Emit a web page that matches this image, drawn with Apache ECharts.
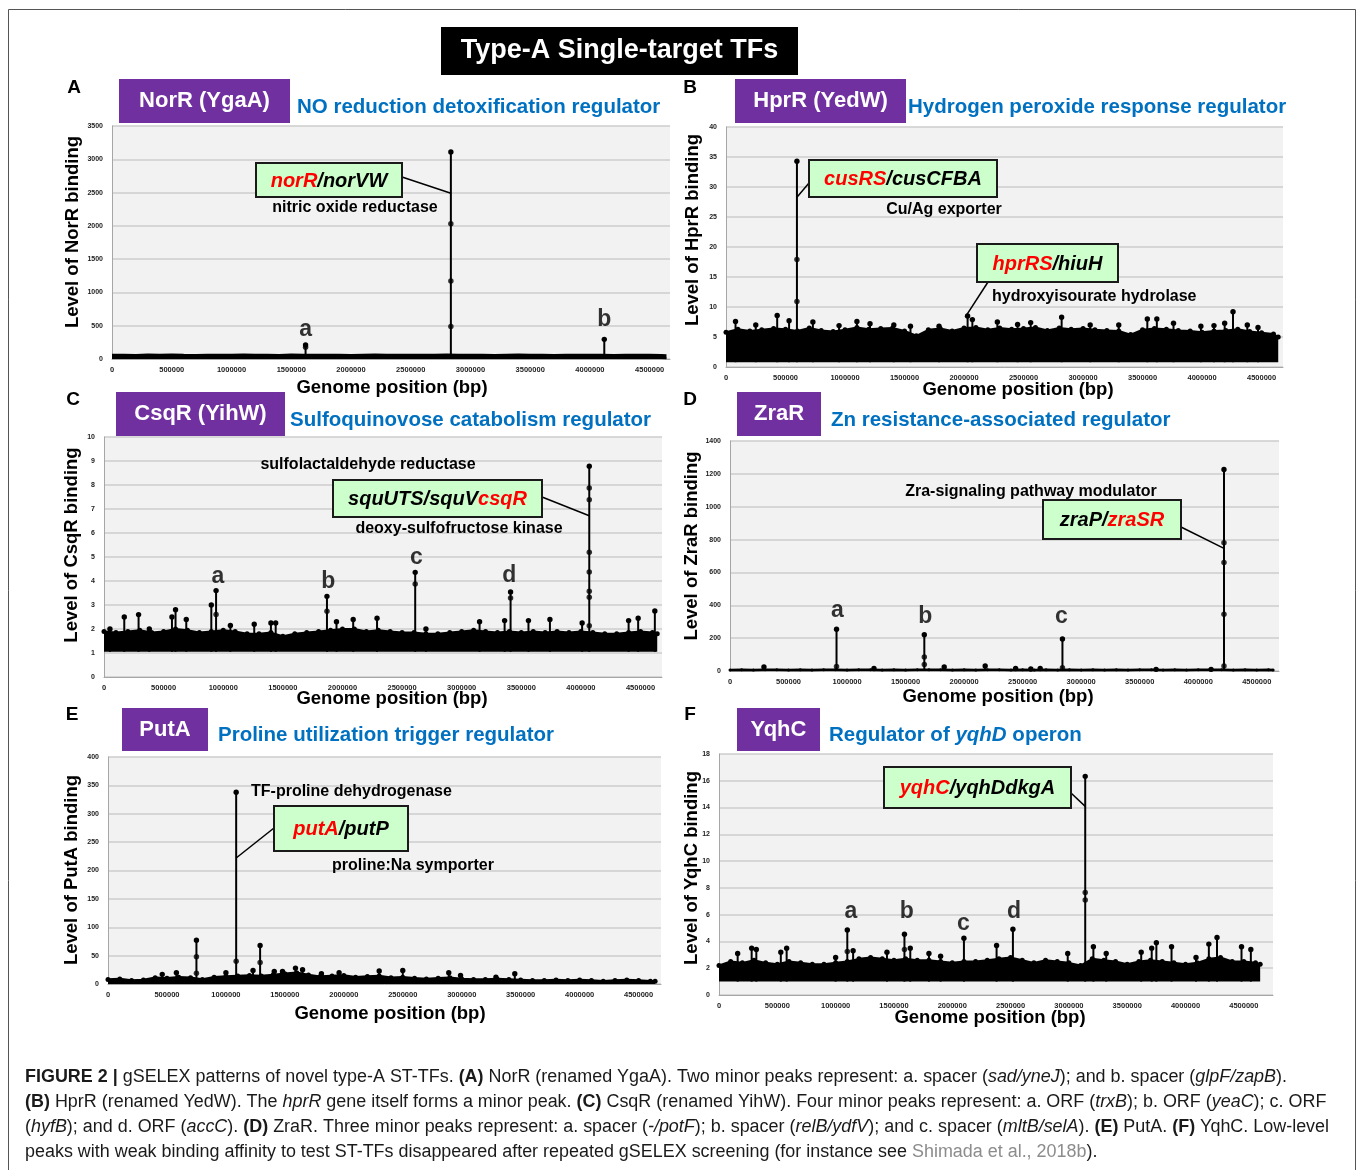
<!DOCTYPE html>
<html><head><meta charset="utf-8">
<script src="https://cdn.jsdelivr.net/npm/echarts@6/dist/echarts.min.js"></script>
<style>html,body{margin:0;padding:0;background:#fff}#c{width:1360px;height:1170px}</style>
</head><body><div id="c"></div>
<script>
// ================= DATA =================
// genome positions at which the background band's upper envelope was read
const ENV_X = [0,100000,200000,300000,400000,500000,600000,700000,800000,900000,
  1000000,1100000,1200000,1300000,1400000,1500000,1600000,1700000,1800000,1900000,
  2000000,2100000,2200000,2300000,2400000,2500000,2600000,2700000,2800000,2900000,
  3000000,3100000,3200000,3300000,3400000,3500000,3600000,3700000,3800000,3900000,
  4000000,4100000,4200000,4300000,4400000,4500000,4600000,4640000];
const X_TICKS = [0,500000,1000000,1500000,2000000,2500000,3000000,3500000,4000000,4500000];

// (A) NorR
const A_ENV = [40,42,38,45,40,44,41,39,43,40,42,45,41,40,38,44,42,40,43,41,39,42,44,40,41,43,40,42,45,41,40,43,39,42,44,40,41,38,42,40,43,41,39,42,40,41,38,35];
const A_SPIKE_X = [1620000, 2836000, 4120000];
const A_SPIKE_Y = [210, 3110, 295];
const A_DOT_X = [1620000, 2836000, 2836000, 2836000];
const A_DOT_Y = [175, 2030, 1170, 490];
const A_LET_X = [1620000, 4120000];
const A_LET_Y = [437, 588];
const A_LET_T = ['a', 'b'];

// (B) HprR
const B_ENV = [5.8,6.3,6.0,6.2,6.4,6.3,6.0,6.5,6.1,5.9,6.2,6.6,6.3,6.4,6.5,6.0,5.2,6.2,6.4,6.0,6.5,6.6,6.2,6.5,6.3,6.4,6.6,6.1,6.5,6.3,6.4,6.2,6.1,6.0,5.4,6.2,6.4,6.3,6.1,6.0,5.8,6.0,6.1,6.3,5.9,5.7,5.5,5.0];
const B_SPIKE_X = [80000,430000,530000,596000,730000,1100000,1210000,1410000,1790000,2030000,2070000,2280000,2560000,2820000,3060000,3540000,3620000,3760000,3990000,4190000,4260000,4380000,4470000,250000,950000,1550000,2450000,3300000,4100000];
const B_SPIKE_Y = [7.6,8.6,7.7,34.3,7.5,7.6,7.2,7.0,6.8,8.5,7.9,7.5,7.4,8.3,7.0,8.0,8.0,7.3,6.8,7.3,9.2,7.0,6.6,7.0,6.9,6.8,7.1,7.0,6.9];
const B_DOT_X = [596000, 596000];
const B_DOT_Y = [17.9, 10.9];

// (C) CsqR
const C_ENV = [1.9,1.85,1.9,1.95,1.85,1.9,2.0,1.95,1.85,1.9,1.95,1.9,1.8,1.8,1.85,1.7,1.8,1.85,1.9,1.95,2.0,2.0,1.9,1.95,1.9,1.85,1.85,1.8,1.8,1.85,1.9,1.95,1.9,1.85,1.9,1.85,1.9,1.85,1.9,1.85,1.9,1.85,1.8,1.8,1.85,1.9,1.85,1.8];
const C_SPIKE_X = [170000,290000,570000,600000,690000,900000,940000,1260000,1400000,1440000,1870000,2090000,2290000,2610000,3360000,3410000,3560000,3740000,4010000,4070000,4400000,4480000,4620000,50000,380000,1060000,1950000,2700000,3150000];
const C_SPIKE_Y = [2.5,2.6,2.5,2.8,2.4,3.0,3.6,2.2,2.25,2.25,3.36,2.4,2.45,4.36,2.35,3.54,2.35,2.4,2.25,8.78,2.35,2.45,2.75,2.0,2.0,2.15,2.3,2.0,2.3];
const C_DOT_X = [940000,1870000,2610000,3410000,4070000,4070000,4070000,4070000,4070000,4070000,4070000];
const C_DOT_Y = [2.6,2.74,3.87,3.29,7.87,7.39,5.2,4.37,3.57,3.32,2.14];
const C_LET_X = [955000, 1880000, 2620000, 3400000];
const C_LET_Y = [4.19, 3.99, 4.96, 4.24];
const C_LET_T = ['a', 'b', 'c', 'd'];

// (D) ZraR
const D_ENV = [6,7,6,8,7,6,7,6,7,8,6,7,8,6,7,6,7,8,7,6,7,6,8,7,6,7,6,7,6,7,6,7,6,7,6,8,7,6,7,6,7,8,7,6,7,6,7,6];
const D_SPIKE_X = [290000,910000,1230000,1660000,1830000,2180000,2440000,2570000,2650000,2840000,3640000,4110000,4220000];
const D_SPIKE_Y = [25,254,15,221,25,30,15,12,15,195,10,10,1227];
const D_DOT_X = [910000,1660000,1660000,2840000,4220000,4220000,4220000,4220000];
const D_DOT_Y = [28,85,39,20,780,660,345,30];
const D_LET_X = [917000, 1668000, 2830000];
const D_LET_Y = [370, 329, 329];
const D_LET_T = ['a', 'b', 'c'];

// (E) PutA
const E_ENV = [8,9,6,7,11,10,12,11,8,12,13,14,15,14,16,18,20,16,13,14,15,12,13,14,11,12,10,9,10,11,9,8,8,9,8,7,6,6,7,6,7,6,5,6,7,6,5,5];
const E_SPIKE_X = [460000,580000,750000,1000000,1087000,1230000,1290000,1410000,1480000,1590000,1650000,1810000,1960000,2300000,2500000,2890000,2990000,3290000,3450000];
const E_SPIKE_Y = [17,20,77,20,338,24,68,22,22,28,25,18,20,23,24,20,15,12,18];
const E_DOT_X = [750000,750000,1087000,1290000];
const E_DOT_Y = [48,19,40,38];

// (F) YqhC
const F_ENV = [2.2,2.5,2.4,2.6,2.4,2.3,2.5,2.4,2.3,2.3,2.4,2.5,2.7,2.8,2.7,2.6,2.7,2.6,2.6,2.5,2.4,2.5,2.5,2.6,2.7,2.8,2.6,2.4,2.6,2.5,2.4,2.2,2.7,2.6,2.5,2.3,2.5,2.6,2.5,2.4,2.3,2.4,2.7,2.8,2.5,2.5,2.4,2.3];
const F_SPIKE_X = [160000,280000,320000,530000,580000,1000000,1100000,1150000,1440000,1590000,1640000,1800000,1900000,2100000,2380000,2520000,2990000,3140000,3210000,3320000,3620000,3710000,3750000,3880000,4090000,4200000,4270000,4480000,4560000];
const F_SPIKE_Y = [3.1,3.5,3.4,3.2,3.5,2.8,4.86,3.3,3.2,4.54,3.5,3.1,2.9,4.24,3.7,4.91,3.1,16.33,3.6,3.1,3.2,3.5,3.9,3.6,2.8,3.8,4.3,3.6,3.4];
const F_DOT_X = [1100000,1590000,3140000,3140000];
const F_DOT_Y = [3.24,3.4,7.65,7.1];
const F_LET_X = [1130000, 1610000, 2095000, 2530000];
const F_LET_Y = [6.23, 6.23, 5.31, 6.23];
const F_LET_T = ['a', 'b', 'c', 'd'];

// ================= LAYOUT / STYLE =================
const FONT = '"Liberation Sans", Arial, Helvetica, sans-serif';
const PANELS = [
  {grid:{left:112,top:126,width:558,height:233}, xMax:4670000, yMax:3500, yInt:500, base:0, env:A_ENV, envW:5, envSym:0,
   sx:A_SPIKE_X, sy:A_SPIKE_Y, dx:A_DOT_X, dy:A_DOT_Y, lx:A_LET_X, ly:A_LET_Y, lt:A_LET_T,
   yName:'Level of NorR binding', yNamePos:[73,232], xNamePos:[392,388]},
  {grid:{left:726,top:127,width:557,height:240}, xMax:4680000, yMax:40, yInt:5, base:0.8, env:B_ENV, envW:2, envSym:5,
   sx:B_SPIKE_X, sy:B_SPIKE_Y, dx:B_DOT_X, dy:B_DOT_Y, lx:[], ly:[], lt:[],
   yName:'Level of HprR binding', yNamePos:[693,230], xNamePos:[1018,390]},
  {grid:{left:104,top:437,width:558,height:240}, xMax:4680000, yMax:10, yInt:1, base:1.05, env:C_ENV, envW:2, envSym:5,
   sx:C_SPIKE_X, sy:C_SPIKE_Y, dx:C_DOT_X, dy:C_DOT_Y, lx:C_LET_X, ly:C_LET_Y, lt:C_LET_T,
   yName:'Level of CsqR binding', yNamePos:[72,545], xNamePos:[392,699]},
  {grid:{left:730,top:441,width:549,height:230}, xMax:4690000, yMax:1400, yInt:200, base:0, env:D_ENV, envW:2.5, envSym:3,
   sx:D_SPIKE_X, sy:D_SPIKE_Y, dx:D_DOT_X, dy:D_DOT_Y, lx:D_LET_X, ly:D_LET_Y, lt:D_LET_T,
   yName:'Level of ZraR binding', yNamePos:[692,546], xNamePos:[998,697]},
  {grid:{left:108,top:757,width:553,height:227}, xMax:4690000, yMax:400, yInt:50, base:0, env:E_ENV, envW:2.5, envSym:5,
   sx:E_SPIKE_X, sy:E_SPIKE_Y, dx:E_DOT_X, dy:E_DOT_Y, lx:[], ly:[], lt:[],
   yName:'Level of PutA binding', yNamePos:[72,870], xNamePos:[390,1014]},
  {grid:{left:719,top:754,width:554,height:241}, xMax:4750000, yMax:18, yInt:2, base:1.0, env:F_ENV, envW:2, envSym:5,
   sx:F_SPIKE_X, sy:F_SPIKE_Y, dx:F_DOT_X, dy:F_DOT_Y, lx:F_LET_X, ly:F_LET_Y, lt:F_LET_T,
   yName:'Level of YqhC binding', yNamePos:[692,868], xNamePos:[990,1018]}
];

function spikeRender(params, api) {
  const x = api.value(0), top = api.value(1), base = api.value(2);
  const p0 = api.coord([x, base]);
  const p1 = api.coord([x, top]);
  return {type:'group', children:[
    {type:'line', shape:{x1:p0[0], y1:p0[1], x2:p1[0], y2:p1[1]}, style:{stroke:'#000', lineWidth:2}},
    {type:'circle', shape:{cx:p1[0], cy:p1[1], r:2.7}, style:{fill:'#000'}}
  ]};
}

const grids = [], xAxes = [], yAxes = [], series = [];
PANELS.forEach((p, i) => {
  grids.push(Object.assign({show:true, backgroundColor:'#f2f2f2', borderWidth:0}, p.grid));
  xAxes.push({type:'value', gridIndex:i, min:0, max:p.xMax, interval:500000,
    axisLine:{show:true, onZero:false, lineStyle:{color:'#a6a6a6', width:1}}, axisTick:{show:false},
    splitLine:{show:false},
    axisLabel:{fontSize:7.5, fontWeight:'bold', color:'#222', margin:7, fontFamily:FONT,
      showMaxLabel:false, formatter:v => (X_TICKS.indexOf(v) >= 0 ? String(v) : '')}});
  yAxes.push({type:'value', gridIndex:i, min:0, max:p.yMax, interval:p.yInt,
    axisLine:{show:true, lineStyle:{color:'#a6a6a6', width:1}}, axisTick:{show:false},
    splitLine:{show:true, lineStyle:{color:'#cccccc', width:1.5}},
    axisLabel:{fontSize:7, fontWeight:'bold', color:'#222', margin:9, fontFamily:FONT, formatter:v => String(v)}});
  series.push({type:'line', xAxisIndex:i, yAxisIndex:i, silent:true, z:2,
    data:ENV_X.map((x, k) => [x, p.env[k]]),
    symbol:'circle', symbolSize:p.envSym, showSymbol:p.envSym > 0,
    lineStyle:{color:'#000', width:p.envW}, itemStyle:{color:'#000'},
    areaStyle:{color:'#000', opacity:1, origin:p.base}});
  series.push({type:'custom', xAxisIndex:i, yAxisIndex:i, silent:true, z:3,
    renderItem:spikeRender, encode:{x:0, y:1},
    data:p.sx.map((x, k) => [x, p.sy[k], p.base])});
  series.push({type:'scatter', xAxisIndex:i, yAxisIndex:i, silent:true, z:4,
    symbolSize:5.5, itemStyle:{color:'#000'},
    data:p.dx.map((x, k) => [x, p.dy[k]])});
  if (p.lx.length) {
    series.push({type:'scatter', xAxisIndex:i, yAxisIndex:i, silent:true, z:5,
      symbolSize:1, itemStyle:{color:'rgba(0,0,0,0)'},
      label:{show:true, position:'inside', formatter:q => q.data[2], fontSize:23, fontWeight:'bold', color:'#000', fontFamily:FONT},
      data:p.lx.map((x, k) => [x, p.ly[k], p.lt[k]])});
  }
});

const chart = echarts.init(document.getElementById('c'), null, {width:1360, height:1170});
chart.setOption({animation:false, backgroundColor:'#ffffff', grid:grids, xAxis:xAxes, yAxis:yAxes, series:series});

// ================= ANNOTATIONS =================
const G = [];
function txt(x, y, text, size, opts) {
  opts = opts || {};
  const st = Object.assign({text:text, fontSize:size, fontFamily:FONT, fontWeight:'bold', fill:'#000',
    align:opts.align || 'center', verticalAlign:'middle', textAlign:opts.align || 'center', textVerticalAlign:'middle'}, opts.style || {});
  const el = {type:'text', x:x, y:y, z:100, style:st};
  if (opts.rotation) el.rotation = opts.rotation;
  if (opts.scaleX) el.scaleX = opts.scaleX;
  G.push(el);
}
function rect(x, y, w, h, fill, stroke, lw) {
  G.push({type:'rect', z:90, shape:{x:x, y:y, width:w, height:h}, style:{fill:fill, stroke:stroke || null, lineWidth:lw || 0}});
}
// frame
G.push({type:'rect', z:80, shape:{x:8.5, y:9.5, width:1347, height:1200}, style:{fill:'none', stroke:'#555', lineWidth:1}});
// main title
rect(441, 27, 357, 48, '#000');
txt(619.5, 51, 'Type-A Single-target TFs', 27, {style:{fill:'#fff'}});
// panel letters
[['A',74,88],['B',690,88],['C',73,400],['D',690,400],['E',72,715],['F',690,715]].forEach(a => txt(a[1], a[2], a[0], 19));
// purple name boxes
const PURPLE = '#7030a0';
[[119,79,171,44,'NorR (YgaA)'],[735,79,171,44,'HprR (YedW)'],[116,392,169,44,'CsqR (YihW)'],
 [737,392,84,44,'ZraR'],[122,708,86,43,'PutA'],[737,708,83,43,'YqhC']].forEach(b => {
  rect(b[0], b[1], b[2], b[3], PURPLE);
  txt(b[0] + b[2] / 2, b[1] + b[3] / 2, b[4], 22, {style:{fill:'#fff'}});
});
// blue subtitles
const BLUE = '#0070c0';
[[297,107,'NO reduction detoxification regulator'],[908,107,'Hydrogen peroxide response regulator'],
 [290,420,'Sulfoquinovose catabolism regulator'],[831,420,'Zn resistance-associated regulator'],
 [218,735,'Proline utilization trigger regulator']].forEach(t => txt(t[0], t[1], t[2], 20.5, {align:'left', style:{fill:BLUE}}));
txt(829, 735, '{n|Regulator of }{i|yqhD}{n| operon}', 20.5, {align:'left', style:{fill:BLUE,
  rich:{n:{fontSize:20.5, fontWeight:'bold', fontFamily:FONT, fill:BLUE},
        i:{fontSize:20.5, fontWeight:'bold', fontStyle:'italic', fontFamily:FONT, fill:BLUE}}}});
// axis names
PANELS.forEach(p => {
  txt(p.yNamePos[0], p.yNamePos[1], p.yName, 18.5, {rotation:Math.PI / 2});
  txt(p.xNamePos[0], p.xNamePos[1], 'Genome position (bp)', 18.5);
});
// callout boxes
const CR = {r:{fontSize:20, fontWeight:'bold', fontStyle:'italic', fontFamily:FONT, fill:'#ff0000'},
            k:{fontSize:20, fontWeight:'bold', fontStyle:'italic', fontFamily:FONT, fill:'#000'}};
const CALLOUTS = [
  // box x,y,w,h, rich text, line start (px), line end (data), panel
  [256,163,146,34,'{r|norR}{k|/norVW}', [402,177], [2836000,2490], 0],
  [809,160,188,37,'{r|cusRS}{k|/cusCFBA}', [809,183], [596000,28.3], 1],
  [977,244,141,38,'{r|hprRS}{k|/hiuH}', [988,282], [2010000,8.3], 1],
  [333,480,209,37,'{k|squUTS/squV}{r|csqR}', [542,497], [4070000,6.72], 2],
  [1043,500,138,39,'{k|zraP/}{r|zraSR}', [1181,527], [4220000,746], 3],
  [274,806,134,45,'{r|putA}{k|/putP}', [274,828], [1087000,222], 4],
  [884,767,187,41,'{r|yqhC}{k|/yqhDdkgA}', [1071,793], [3140000,14.09], 5]
];
CALLOUTS.forEach(c => {
  const end = chart.convertToPixel({xAxisIndex:c[7], yAxisIndex:c[7]}, c[6]);
  G.push({type:'line', z:95, shape:{x1:c[5][0], y1:c[5][1], x2:end[0], y2:end[1]}, style:{stroke:'#000', lineWidth:1.5}});
  G.push({type:'rect', z:96, shape:{x:c[0], y:c[1], width:c[2], height:c[3]}, style:{fill:'#ccffcc', stroke:'#1a1a1a', lineWidth:2}});
  txt(c[0] + c[2] / 2, c[1] + c[3] / 2 + 1, c[4], 20, {style:{rich:CR}});
});
// gene function annotations
[[355,208,'nitric oxide reductase','center'],[944,210,'Cu/Ag exporter','center'],
 [992,297,'hydroxyisourate hydrolase','left'],[368,465,'sulfolactaldehyde reductase','center'],
 [459,529,'deoxy-sulfofructose kinase','center'],[1031,492,'Zra-signaling pathway modulator','center'],
 [251,792,'TF-proline dehydrogenase','left'],[413,866,'proline:Na symporter','center']]
 .forEach(a => txt(a[0], a[1], a[2], 16, {align:a[3]}));

// caption
const CAP = [
  [['b','FIGURE 2 |'],['n',' gSELEX patterns of novel type-A ST-TFs. '],['b','(A)'],['n',' NorR (renamed YgaA). Two minor peaks represent: a. spacer ('],['i','sad/yneJ'],['n','); and b. spacer ('],['i','glpF/zapB'],['n',').']],
  [['b','(B)'],['n',' HprR (renamed YedW). The '],['i','hprR'],['n',' gene itself forms a minor peak. '],['b','(C)'],['n',' CsqR (renamed YihW). Four minor peaks represent: a. ORF ('],['i','trxB'],['n','); b. ORF ('],['i','yeaC'],['n','); c. ORF']],
  [['n','('],['i','hyfB'],['n','); and d. ORF ('],['i','accC'],['n','). '],['b','(D)'],['n',' ZraR. Three minor peaks represent: a. spacer ('],['i','-/potF'],['n','); b. spacer ('],['i','relB/ydfV'],['n','); and c. spacer ('],['i','mltB/selA'],['n','). '],['b','(E)'],['n',' PutA. '],['b','(F)'],['n',' YqhC. Low-level']],
  [['n','peaks with weak binding affinity to test ST-TFs disappeared after repeated gSELEX screening (for instance see '],['g','Shimada et al., 2018b'],['n',').']]
];
const CAP_SIZE = 18;
const CAP_STY = {
  n:{fontSize:CAP_SIZE, fontFamily:FONT, fontWeight:'normal', fontStyle:'normal', fill:'#1a1a1a'},
  b:{fontSize:CAP_SIZE, fontFamily:FONT, fontWeight:'bold', fontStyle:'normal', fill:'#1a1a1a'},
  i:{fontSize:CAP_SIZE, fontFamily:FONT, fontWeight:'normal', fontStyle:'italic', fill:'#1a1a1a'},
  g:{fontSize:CAP_SIZE, fontFamily:FONT, fontWeight:'normal', fontStyle:'normal', fill:'#8c8c8c'}
};
const ctx = document.createElement('canvas').getContext('2d');
function measure(line) {
  let w = 0;
  line.forEach(s => {
    const st = CAP_STY[s[0]];
    ctx.font = st.fontStyle + ' ' + st.fontWeight + ' ' + CAP_SIZE + 'px ' + FONT;
    w += ctx.measureText(s[1]).width;
  });
  return w;
}
const capScale = 1262 / measure(CAP[0]);
[1077, 1102, 1127, 1152].forEach((y, k) => {
  const str = CAP[k].map(s => '{' + s[0] + '|' + s[1] + '}').join('');
  txt(25, y, str, CAP_SIZE, {align:'left', scaleX:capScale, style:{rich:CAP_STY, fontWeight:'normal'}});
});

chart.setOption({graphic:{elements:G}});
</script>
</body></html>
